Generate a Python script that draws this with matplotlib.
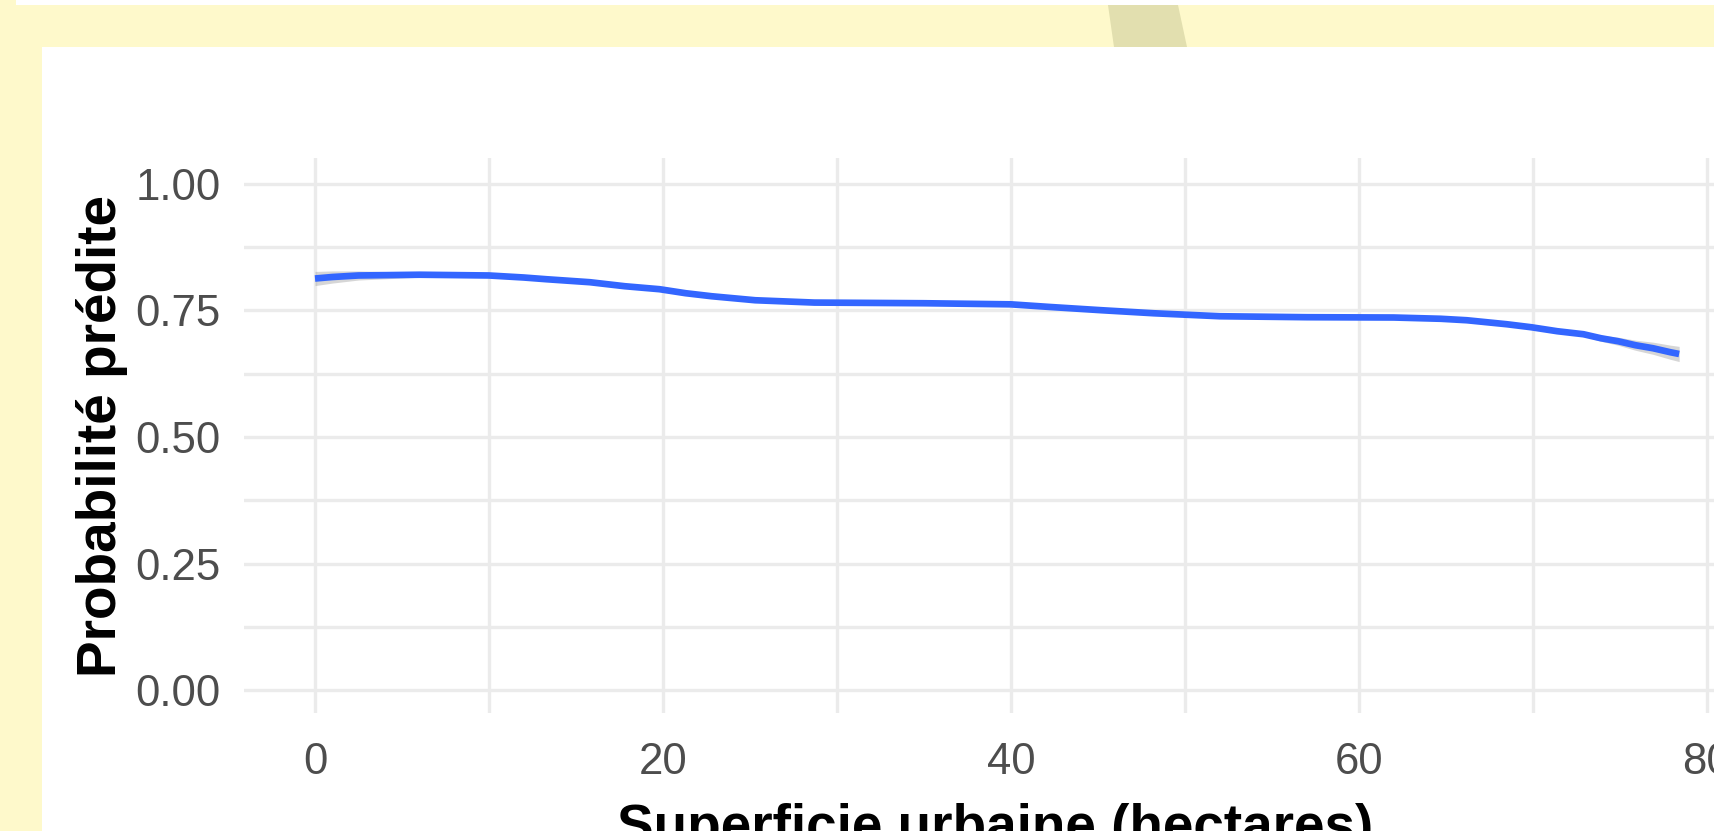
import numpy as np
import matplotlib
matplotlib.use("Agg")
import matplotlib.pyplot as plt
from matplotlib.patches import Rectangle, Polygon

# values (superficie urbaine -> probabilite predite)
superficie = [0, 1, 2.5, 6, 10, 12, 13.3, 15.8, 17.8, 19.8, 21.3, 22.8, 25.3,
              28.7, 35, 40, 42.2, 45.2, 48.2, 52, 57, 62, 64.7, 66.2, 68.5,
              69.9, 71.4, 72.9, 73.9, 74.9, 75.9, 76.9, 77.9, 78.4]
proba = [0.813, 0.816, 0.819, 0.8205, 0.819, 0.815, 0.8116, 0.8057, 0.7978,
         0.7919, 0.7840, 0.7780, 0.7701, 0.7655, 0.7642, 0.7620, 0.7569,
         0.7504, 0.7444, 0.7385, 0.7366, 0.7360, 0.7335, 0.7306, 0.7227,
         0.7168, 0.7089, 0.7030, 0.6951, 0.6891, 0.6812, 0.6753, 0.6674, 0.664]
demi_ic = [0.014, 0.012, 0.009, 0.005, 0.003, 0.003, 0.003, 0.003, 0.003,
           0.003, 0.003, 0.003, 0.003, 0.003, 0.003, 0.003, 0.003, 0.003,
           0.003, 0.003, 0.003, 0.003, 0.003, 0.003, 0.003, 0.003, 0.003,
           0.004, 0.006, 0.008, 0.010, 0.012, 0.014, 0.015]

y_ticks = [0, 0.25, 0.5, 0.75, 1.0]
x_ticks = [0, 20, 40, 60, 80]

W, H = 1714, 831
fig = plt.figure(figsize=(W / 100, H / 100), dpi=100)
fig.patch.set_facecolor("white")

def fx(px):
    return px / W

def fy(py):
    return 1 - py / H

# yellow frame of the screenshot
jaune = "#FEF9CB"
fig.add_artist(Rectangle((0, fy(47)), 1, 42 / H, transform=fig.transFigure,
                         color=jaune, lw=0, zorder=-1))
fig.add_artist(Rectangle((0, 0), fx(42), fy(47), transform=fig.transFigure,
                         color=jaune, lw=0, zorder=-1))
fig.add_artist(Rectangle((0, fy(5)), fx(16), 5 / H, transform=fig.transFigure,
                         color=jaune, lw=0, zorder=-1))
fig.add_artist(Polygon([(fx(1108), fy(5)), (fx(1178), fy(5)),
                        (fx(1187), fy(47)), (fx(1114), fy(47))],
                       closed=True, transform=fig.transFigure,
                       color="#E2DFAF", lw=0, zorder=-1))

# panel (extends past the right edge, as in the cropped screenshot)
ax = fig.add_axes([fx(244), fy(713), (1747 - 244) / W, (713 - 158) / H])
ax.set_facecolor("white")

x = np.array(superficie)
p = np.array(proba)
ic = np.array(demi_ic)
ax.fill_between(x, p - ic, p + ic, color="#999999", alpha=0.4, lw=0, zorder=2)
ax.plot(x, p, color="#3366FF", lw=4.8, solid_capstyle="butt", zorder=3)

ax.set_xlim(-4.08, 82.3)
ax.set_ylim(-0.045, 1.051)

ax.set_xticks(x_ticks)
ax.set_xticks([10, 30, 50, 70], minor=True)
ax.set_yticks(y_ticks)
ax.set_yticks([0.125, 0.375, 0.625, 0.875], minor=True)
ax.set_yticklabels([f"{v:.2f}" for v in y_ticks])
ax.grid(True, which="both", color="#EBEBEB", lw=2.4)
ax.set_axisbelow(True)
for s in ax.spines.values():
    s.set_visible(False)

ax.tick_params(which="both", length=0)
ax.tick_params(axis="y", pad=17, labelsize=31.5, labelcolor="#4D4D4D")
ax.tick_params(axis="x", pad=21, labelsize=31.5, labelcolor="#4D4D4D")
for lab in ax.get_xticklabels() + ax.get_yticklabels():
    lab.set_fontfamily("Liberation Sans")

ax.set_xlabel("Superficie urbaine (hectares)", fontsize=39.5,
              fontweight="bold", family="Liberation Sans", color="black")
ax.set_ylabel("Probabilité prédite", fontsize=39.5, fontweight="bold",
              family="Liberation Sans", color="black")
ax.xaxis.set_label_coords(0.5, -0.162)
ax.yaxis.set_label_coords(-0.0772, 0.499)

fig.savefig("out.png", dpi=100)
